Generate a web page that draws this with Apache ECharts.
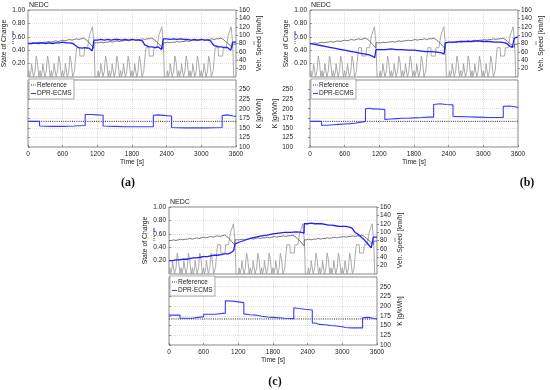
<!DOCTYPE html>
<html><head><meta charset="utf-8">
<script src="https://cdn.jsdelivr.net/npm/echarts@6/dist/echarts.min.js"></script>
<style>html,body{margin:0;padding:0;background:#fff}#c{width:550px;height:390px}</style>
</head><body><div id="c"></div>
<script>
// ---- data ----
const timeTicks = [0, 600, 1200, 1800, 2400, 3000, 3600];
// NEDC cycle, relative breakpoints [t(s), speed(km/h)]
const eceSegment = [[0,0],[11,0],[15,15],[23,15],[28,0],[49,0],[54,15],[56,15],[61,32],[85,32],[96,0],[117,0],[122,15],[124,15],[133,35],[135,35],[143,50],[155,50],[163,35],[176,35],[188,0],[195,0]];
const eceStarts = [0, 195, 390, 585];
const eudcSegment = [[0,0],[20,0],[25,15],[27,15],[36,35],[38,35],[46,50],[48,50],[61,70],[111,70],[119,50],[188,50],[201,70],[251,70],[286,100],[316,100],[336,120],[346,120],[362,80],[370,50],[380,0],[400,0]];
const eudcStart = 780;
const cycleStarts = [0, 1200, 2400];

const socReference = [[0,0.50],[40,0.50],[80,0.51],[120,0.50],[160,0.51],[200,0.52],[240,0.51],[280,0.52],[320,0.52],[360,0.53],[400,0.52],[440,0.53],[480,0.54],[520,0.53],[560,0.54],[600,0.55],[640,0.54],[680,0.55],[720,0.56],[760,0.55],[800,0.56],[840,0.57],[880,0.56],[920,0.57],[960,0.58],[1000,0.56],[1040,0.53],[1080,0.49],[1110,0.46],[1138,0.43],[1142,0.51],
[1180,0.51],[1220,0.51],[1260,0.52],[1300,0.51],[1340,0.52],[1380,0.52],[1420,0.53],[1460,0.52],[1500,0.53],[1540,0.54],[1580,0.53],[1620,0.54],[1660,0.54],[1700,0.55],[1740,0.54],[1780,0.55],[1820,0.56],[1860,0.55],[1900,0.56],[1940,0.56],[1980,0.57],[2020,0.56],[2060,0.57],[2100,0.57],[2140,0.58],[2180,0.56],[2220,0.53],[2260,0.50],[2300,0.46],[2338,0.42],[2342,0.51],
[2380,0.51],[2420,0.52],[2460,0.51],[2500,0.52],[2540,0.52],[2580,0.53],[2620,0.52],[2660,0.53],[2700,0.53],[2740,0.54],[2780,0.53],[2820,0.54],[2860,0.55],[2900,0.54],[2940,0.55],[2980,0.55],[3020,0.56],[3060,0.55],[3100,0.56],[3140,0.56],[3180,0.57],[3220,0.56],[3260,0.57],[3300,0.57],[3340,0.58],[3380,0.56],[3420,0.53],[3460,0.50],[3500,0.47],[3536,0.44],[3540,0.49],[3600,0.49]];

const socA = [[0,0.50],[60,0.50],[120,0.51],[180,0.50],[240,0.51],[300,0.50],[360,0.51],[420,0.50],[480,0.51],[540,0.51],[600,0.52],[660,0.51],[720,0.51],[780,0.50],[800,0.49],[820,0.47],[840,0.45],[870,0.44],[900,0.44],[940,0.43],[980,0.44],[1020,0.43],[1060,0.43],[1080,0.41],[1110,0.39],[1138,0.38],[1142,0.55],
[1200,0.55],[1260,0.56],[1320,0.55],[1380,0.56],[1440,0.55],[1500,0.56],[1560,0.56],[1620,0.55],[1680,0.56],[1740,0.55],[1800,0.56],[1860,0.55],[1920,0.55],[1980,0.54],[2000,0.51],[2020,0.48],[2050,0.46],[2100,0.45],[2150,0.45],[2200,0.44],[2250,0.45],[2280,0.43],[2310,0.41],[2338,0.40],[2342,0.57],
[2400,0.57],[2460,0.56],[2520,0.57],[2580,0.56],[2640,0.57],[2700,0.56],[2760,0.56],[2820,0.55],[2880,0.56],[2940,0.55],[3000,0.56],[3060,0.55],[3120,0.55],[3160,0.54],[3190,0.50],[3220,0.47],[3260,0.46],[3300,0.45],[3350,0.45],[3400,0.44],[3450,0.44],[3480,0.42],[3510,0.40],[3535,0.39],[3540,0.52],[3600,0.52]];

const socB = [[0,0.50],[60,0.49],[120,0.48],[180,0.47],[240,0.46],[300,0.45],[360,0.44],[420,0.43],[480,0.42],[540,0.41],[600,0.40],[660,0.39],[720,0.38],[780,0.37],[840,0.36],[900,0.35],[960,0.34],[1020,0.33],[1080,0.31],[1120,0.29],[1138,0.27],[1142,0.41],
[1200,0.41],[1300,0.41],[1400,0.42],[1500,0.41],[1600,0.41],[1700,0.40],[1800,0.40],[1900,0.39],[2000,0.38],[2100,0.38],[2200,0.37],[2280,0.36],[2320,0.34],[2338,0.33],[2342,0.51],
[2400,0.52],[2500,0.52],[2600,0.53],[2700,0.53],[2800,0.53],[2900,0.54],[3000,0.53],[3100,0.53],[3200,0.52],[3300,0.52],[3380,0.51],[3420,0.49],[3460,0.46],[3500,0.44],[3530,0.42],[3536,0.58],[3560,0.59],[3600,0.60]];

const socC = [[0,0.20],[60,0.20],[120,0.21],[180,0.21],[240,0.22],[300,0.22],[360,0.23],[420,0.24],[480,0.24],[540,0.25],[600,0.26],[660,0.26],[720,0.27],[780,0.28],[840,0.28],[900,0.29],[960,0.30],[1020,0.30],[1060,0.31],[1090,0.33],[1120,0.35],[1138,0.36],[1142,0.45],
[1200,0.47],[1300,0.50],[1400,0.53],[1500,0.55],[1600,0.57],[1700,0.58],[1800,0.60],[1900,0.61],[2000,0.62],[2100,0.62],[2200,0.63],[2300,0.62],[2338,0.61],[2342,0.75],
[2400,0.75],[2460,0.76],[2520,0.75],[2580,0.75],[2640,0.75],[2700,0.74],[2760,0.73],[2820,0.73],[2880,0.72],[2940,0.71],[3000,0.71],[3060,0.71],[3120,0.70],[3160,0.69],[3190,0.66],[3220,0.62],[3260,0.60],[3300,0.57],[3340,0.54],[3380,0.51],[3420,0.47],[3460,0.43],[3500,0.39],[3530,0.37],[3536,0.55],[3600,0.55]];

const kReference = 167;
const kA = [[0,167],[200,167],[200,155],[400,154],[600,154],[800,155],[990,156],[990,185],[1100,185],[1200,184],[1300,183],[1300,155],[1500,154],[1700,153],[1900,153],[2170,153],[2170,183],[2250,184],[2400,182],[2485,181],[2485,151],[2700,150],[2900,150],[3100,150],[3360,151],[3360,182],[3450,184],[3550,181],[3600,180]];
const kB = [[0,167],[200,167],[200,157],[300,157],[400,158],[500,159],[600,160],[700,161],[780,162],[780,167],[960,167],[960,200],[1040,201],[1080,199],[1120,200],[1200,199],[1295,198],[1295,172],[1400,173],[1500,174],[1600,175],[1700,175],[1800,176],[1950,177],[2050,178],[2140,178],[2140,211],[2250,213],[2350,211],[2475,210],[2475,180],[2700,179],[2900,178],[3100,177],[3345,177],[3345,206],[3450,207],[3550,205],[3600,203]];
const kC = [[0,177],[190,177],[190,169],[400,169],[400,173],[600,173],[600,179],[800,179],[800,181],[975,182],[975,214],[1100,213],[1200,211],[1295,209],[1295,180],[1400,178],[1500,177],[1600,174],[1700,172],[1800,171],[1900,170],[2000,169],[2160,168],[2160,196],[2250,194],[2350,192],[2480,190],[2480,157],[2550,156],[2600,153],[2700,152],[2800,150],[2900,149],[3000,147],[3050,145],[3150,144],[3250,144],[3350,144],[3350,170],[3450,171],[3550,168],[3600,167]];
const legendNames = ['Reference', 'DPR-ECMS'];

// ---- build ----
const speedData = [];
cycleStarts.forEach(c => {
  eceStarts.forEach(s => eceSegment.forEach(p => speedData.push([c + s + p[0], p[1]])));
  eudcSegment.forEach(p => speedData.push([c + eudcStart + p[0], p[1]]));
});

const FONT = '"Liberation Sans", Arial, sans-serif';
const FS = 6.5;
const TXT = '#222';
const REF_COLOR = '#222', K_COLOR = '#3b3bff';
const gridLine = {show: true, lineStyle: {color: '#c9c9c9', width: 0.6, type: [1, 1]}};
const panels = [
  {tx: 28, ty: 10, bx: 28, by: 80, bh: 67, kPos: 'right', soc: socA, k: kA, tag: '(a)', tagX: 128, tagY: 183},
  {tx: 310, ty: 10, bx: 310, by: 80, bh: 67, kPos: 'left', soc: socB, k: kB, tag: '(b)', tagX: 527, tagY: 183},
  {tx: 169, ty: 207, bx: 169, by: 277, bh: 68, kPos: 'right', soc: socC, k: kC, tag: '(c)', tagX: 275, tagY: 382}
];
const grid = [], xAxis = [], yAxis = [], series = [], graphic = [];
panels.forEach((p, i) => {
  grid.push({left: p.tx, top: p.ty, width: 208, height: 67, show: true, borderColor: '#555', borderWidth: 0.7});
  grid.push({left: p.bx, top: p.by, width: 208, height: p.bh, show: true, borderColor: '#555', borderWidth: 0.7});
  const gT = 2 * i, gB = 2 * i + 1;
  xAxis.push({type: 'value', gridIndex: gT, min: 0, max: 3600, interval: 600,
    axisLabel: {show: false}, axisTick: {show: false}, axisLine: {show: false}, splitLine: gridLine});
  xAxis.push({type: 'value', gridIndex: gB, min: 0, max: 3600, interval: 600,
    axisLabel: {fontSize: FS, color: TXT, fontFamily: FONT, margin: 4, formatter: v => String(v)},
    axisTick: {show: true, inside: true, length: 2, lineStyle: {color: '#555', width: 0.6}},
    axisLine: {show: false}, splitLine: gridLine,
    name: 'Time [s]', nameLocation: 'middle', nameGap: 12,
    nameTextStyle: {fontSize: 6.8, color: TXT, fontFamily: FONT}});
  const ySoc = yAxis.length;
  yAxis.push({type: 'value', gridIndex: gT, position: 'left', min: 0, max: 1, interval: 0.2,
    axisLabel: {fontSize: FS, color: TXT, fontFamily: FONT, margin: 3, showMinLabel: false, formatter: v => v.toFixed(2)},
    axisLine: {show: false}, axisTick: {show: true, inside: true, length: 2, lineStyle: {color: '#555', width: 0.6}},
    splitLine: gridLine,
    name: 'State of Charge', nameLocation: 'middle', nameGap: 20, nameRotate: 90,
    nameTextStyle: {fontSize: 6.8, color: TXT, fontFamily: FONT}});
  const ySpd = yAxis.length;
  yAxis.push({type: 'value', gridIndex: gT, position: 'right', min: 0, max: 160, interval: 20,
    axisLabel: {fontSize: FS, color: TXT, fontFamily: FONT, margin: 3, showMinLabel: false},
    axisLine: {show: false}, axisTick: {show: true, length: 2, lineStyle: {color: '#555', width: 0.6}},
    splitLine: {show: false},
    name: 'Veh. Speed [km/h]', nameLocation: 'middle', nameGap: 20, nameRotate: 90,
    nameTextStyle: {fontSize: 6.8, color: TXT, fontFamily: FONT}});
  const yK = yAxis.length;
  yAxis.push({type: 'value', gridIndex: gB, position: p.kPos, min: 100, max: 275, interval: 25,
    axisLabel: {fontSize: FS, color: TXT, fontFamily: FONT, margin: p.kPos === 'left' ? 17 : 3, showMaxLabel: false},
    axisLine: {show: false}, axisTick: {show: true, length: 2, lineStyle: {color: '#555', width: 0.6}},
    splitLine: gridLine,
    name: 'K [g/kWh]', nameLocation: 'middle', nameGap: p.kPos === 'left' ? 6 : 20, nameRotate: 90,
    nameTextStyle: {fontSize: 6.8, color: TXT, fontFamily: FONT}});
  const base = {type: 'line', symbol: 'none', showSymbol: false, silent: true, animation: false};
  series.push(Object.assign({}, base, {name: 'Speed', xAxisIndex: gT, yAxisIndex: ySpd, data: speedData,
    lineStyle: {color: '#a2a2a2', width: 0.9}}));
  series.push(Object.assign({}, base, {name: 'SOC Reference', xAxisIndex: gT, yAxisIndex: ySoc, data: socReference,
    lineStyle: {color: '#555', width: 0.8}}));
  series.push(Object.assign({}, base, {name: 'SOC DPR-ECMS', xAxisIndex: gT, yAxisIndex: ySoc, data: p.soc,
    lineStyle: {color: '#1e1eff', width: 1.3}}));
  series.push(Object.assign({}, base, {name: 'Reference', xAxisIndex: gB, yAxisIndex: yK, data: [[0, kReference], [3600, kReference]],
    lineStyle: {color: REF_COLOR, width: 1, type: [1, 1.2]}}));
  series.push(Object.assign({}, base, {name: 'DPR-ECMS', xAxisIndex: gB, yAxisIndex: yK, data: p.k,
    lineStyle: {color: K_COLOR, width: 1.1}}));
  // legend box (drawn)
  const lx = p.bx + 1, ly = p.by - 1;
  graphic.push({type: 'rect', shape: {x: lx, y: ly, width: 45, height: 20}, style: {fill: '#fff', stroke: '#777', lineWidth: 0.6}, z: 100});
  graphic.push({type: 'line', shape: {x1: lx + 2, y1: ly + 6, x2: lx + 7, y2: ly + 6}, style: {stroke: REF_COLOR, lineWidth: 1, lineDash: [1, 1.2]}, z: 101});
  graphic.push({type: 'text', x: lx + 8, y: ly + 6, style: {text: legendNames[0], fontSize: FS, fill: TXT, fontFamily: FONT, verticalAlign: 'middle'}, z: 101});
  graphic.push({type: 'line', shape: {x1: lx + 2, y1: ly + 14.5, x2: lx + 7, y2: ly + 14.5}, style: {stroke: K_COLOR, lineWidth: 1.1}, z: 101});
  graphic.push({type: 'text', x: lx + 8, y: ly + 14.5, style: {text: legendNames[1], fontSize: FS, fill: TXT, fontFamily: FONT, verticalAlign: 'middle'}, z: 101});
  graphic.push({type: 'text', left: p.tx + 1, top: p.ty - 8, style: {text: 'NEDC', fontSize: 7, fill: TXT, fontFamily: FONT}});
  graphic.push({type: 'text', x: p.tagX, y: p.tagY, style: {text: p.tag, fontSize: 12, fontWeight: 'bold', fill: '#111',
    fontFamily: '"Liberation Serif", "Times New Roman", serif', align: 'center', verticalAlign: 'middle'}});
  // small line-style keys next to the axis names
  const kx = p.tx - 15;
  graphic.push({type: 'line', shape: {x1: kx, y1: p.ty + 21, x2: kx, y2: p.ty + 25}, style: {stroke: '#2a2aff', lineWidth: 1}});
  graphic.push({type: 'line', shape: {x1: kx, y1: p.ty + 29, x2: kx, y2: p.ty + 34}, style: {stroke: '#444', lineWidth: 1, lineDash: [1, 1]}});
  const rx = p.tx + 208 + 18;
  graphic.push({type: 'line', shape: {x1: rx, y1: p.ty + 31, x2: rx, y2: p.ty + 35}, style: {stroke: '#888', lineWidth: 1}});
});

const chart = echarts.init(document.getElementById('c'), null, {renderer: 'canvas'});
chart.setOption({backgroundColor: '#fff', animation: false, textStyle: {fontFamily: FONT},
  grid, xAxis, yAxis, series, graphic});
</script></body></html>
